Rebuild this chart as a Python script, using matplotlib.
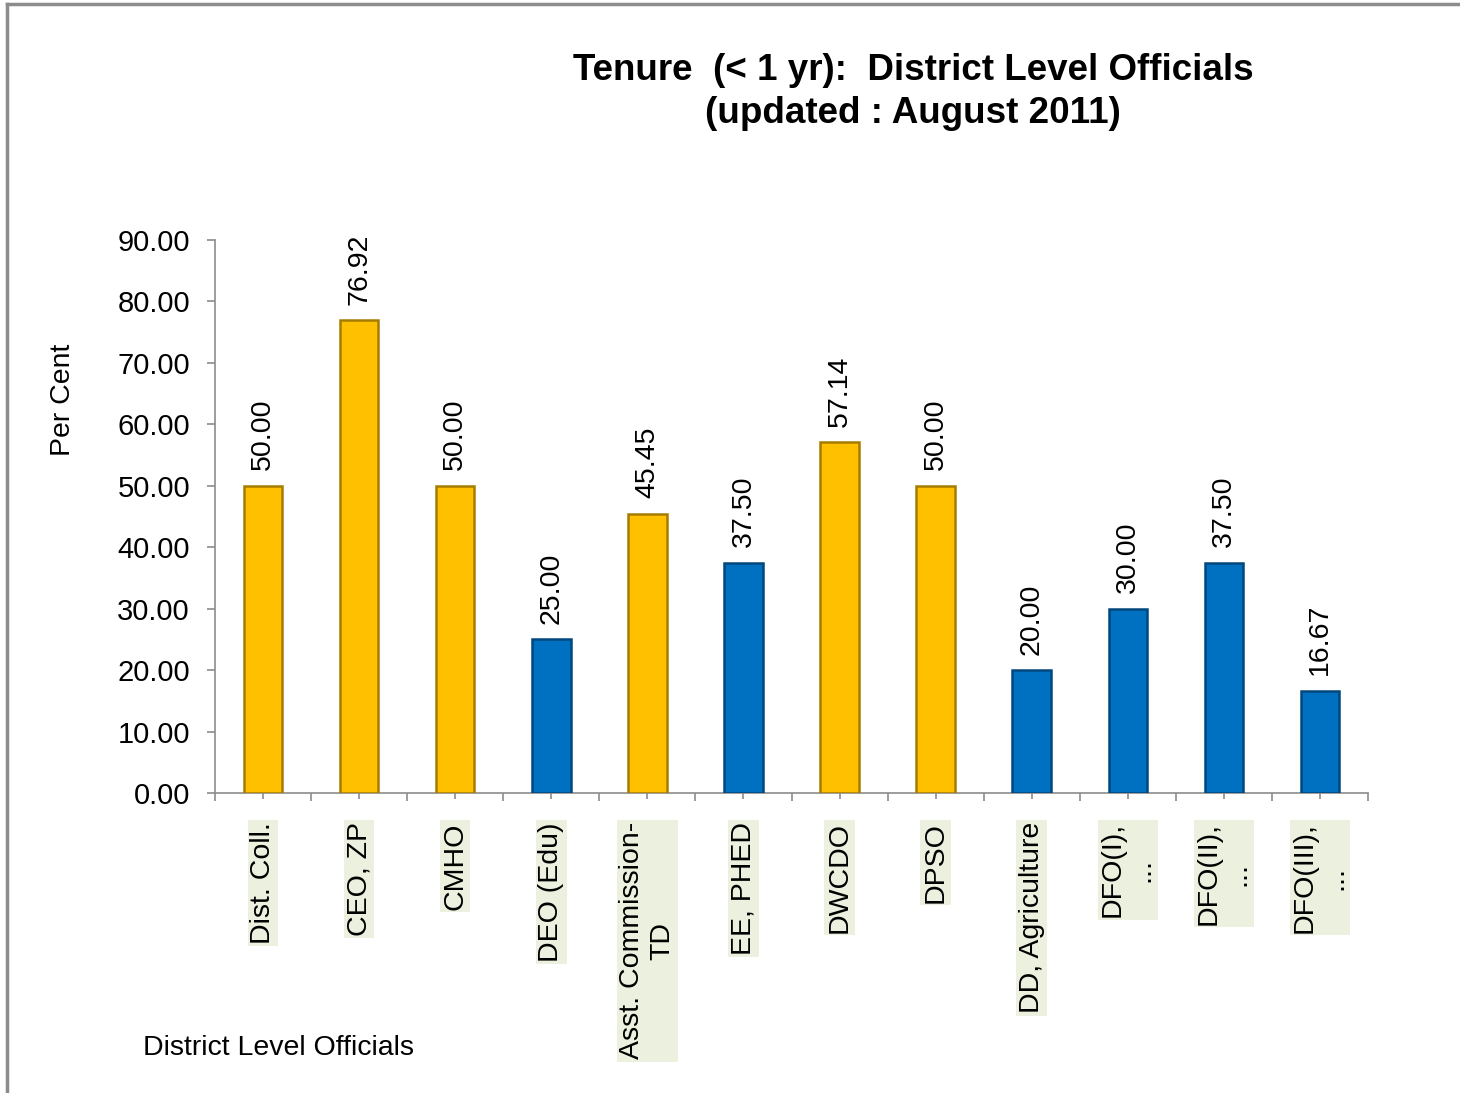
import matplotlib.pyplot as plt
from matplotlib.lines import Line2D

plt.rcParams['font.family'] = ['Liberation Sans', 'DejaVu Sans']

officials = ["Dist. Coll.", "CEO, ZP", "CMHO", "DEO (Edu)", "Asst. Commission-\nTD",
             "EE, PHED", "DWCDO", "DPSO", "DD, Agriculture", "DFO(I),\n...",
             "DFO(II),\n...", "DFO(III),\n..."]
per_cent = [50.00, 76.92, 50.00, 25.00, 45.45, 37.50, 57.14, 50.00, 20.00, 30.00, 37.50, 16.67]
group = ["y", "y", "y", "b", "y", "b", "y", "y", "b", "b", "b", "b"]
y_ticks = [0, 10, 20, 30, 40, 50, 60, 70, 80, 90]

face = {"y": "#FFC000", "b": "#0070C0"}
edge = {"y": "#A67C00", "b": "#00477D"}

fig = plt.figure(figsize=(14.6, 10.93), dpi=100)
ax = fig.add_axes([215 / 1460, 1 - 793 / 1093, (1368 - 215) / 1460, (793 - 240) / 1093])

x = list(range(len(officials)))
bars = ax.bar(x, per_cent, width=0.4,
              color=[face[g] for g in group],
              edgecolor=[edge[g] for g in group], linewidth=1.8, zorder=3)

for b, v in zip(bars, per_cent):
    ax.annotate(f"{v:.2f}", (b.get_x() + b.get_width() / 2, v),
                xytext=(0, 11), textcoords="offset points",
                ha="center", va="bottom", rotation=90, fontsize=20.5)

ax.set_xlim(-0.5, len(officials) - 0.5)
ax.set_ylim(0, 90)
ax.set_yticks(y_ticks)
ax.set_yticklabels([f"{t:.2f}" for t in y_ticks], fontsize=21)

ax.set_xticks(x)
ax.set_xticks([i - 0.5 for i in range(len(officials) + 1)], minor=True)
ax.set_xticklabels(officials, rotation=90, fontsize=20.5, va="top", ha="center",
                   multialignment="center")
for lab in ax.get_xticklabels():
    lab.set_bbox(dict(boxstyle="square,pad=0.08", fc="#EBF1DE", ec="none"))

ax.tick_params(axis="y", length=6, width=1.2, color="#8C8C8C", pad=12)
ax.tick_params(axis="x", which="major", length=4, width=1.2, color="#8C8C8C", pad=17)
ax.tick_params(axis="x", which="minor", length=6, width=1.2, color="#8C8C8C")

for s in ["top", "right"]:
    ax.spines[s].set_visible(False)
for s in ["left", "bottom"]:
    ax.spines[s].set_color("#8C8C8C")
    ax.spines[s].set_linewidth(1.2)

fig.text(913 / 1460, 1 - 53 / 1093, "Tenure  (< 1 yr):  District Level Officials\n(updated : August 2011)",
         ha="center", va="top", fontsize=26.5, fontweight="bold", multialignment="center",
         linespacing=1.3)
fig.text(63 / 1460, 1 - 400 / 1093, "Per Cent", rotation=90, ha="center", va="center", fontsize=20.5)
fig.text(143 / 1460, 1 - 1048 / 1093, "District Level Officials", ha="left", va="center", fontsize=20.5)

# outer frame (top and left only, as in the screenshot)
fig.add_artist(Line2D([7 / 1460, 7 / 1460], [0, 1 - 4 / 1093], color="#8C8C8C", lw=2.5,
                      transform=fig.transFigure))
fig.add_artist(Line2D([7 / 1460, 1], [1 - 4 / 1093, 1 - 4 / 1093], color="#8C8C8C", lw=2.5,
                      transform=fig.transFigure))

fig.savefig("out.png", dpi=100, facecolor="white")
